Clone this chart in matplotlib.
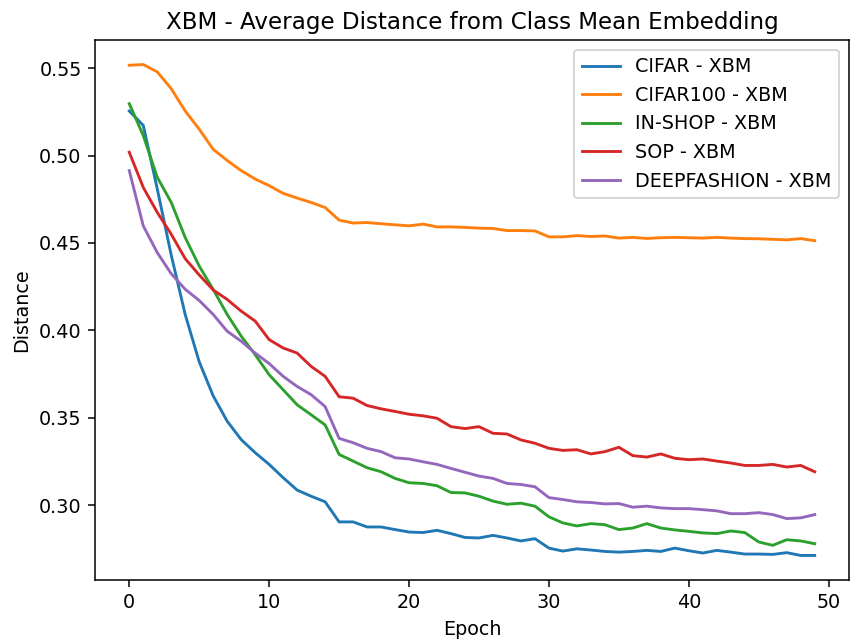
import numpy as np
import matplotlib
matplotlib.use("Agg")
import matplotlib.pyplot as plt

# values, epochs 0..49
epochs = np.arange(50)

cifar = [0.5255, 0.5173, 0.4810, 0.4430, 0.4090, 0.3820, 0.3625, 0.3480, 0.3375, 0.3300,
         0.3233, 0.3157, 0.3086, 0.3051, 0.3019, 0.2904, 0.2904, 0.2875, 0.2875, 0.2860,
         0.2846, 0.2843, 0.2856, 0.2837, 0.2815, 0.2812, 0.2827, 0.2812, 0.2795, 0.2808,
         0.2754, 0.2737, 0.2750, 0.2743, 0.2735, 0.2731, 0.2735, 0.2741, 0.2735, 0.2754,
         0.2739, 0.2726, 0.2741, 0.2731, 0.2720, 0.2720, 0.2718, 0.2728, 0.2712, 0.2712]

cifar100 = [0.5517, 0.5521, 0.5479, 0.5383, 0.5255, 0.5151, 0.5036, 0.4972, 0.4914, 0.4866,
            0.4828, 0.4784, 0.4757, 0.4732, 0.4703, 0.4631, 0.4614, 0.4617, 0.4610, 0.4604,
            0.4598, 0.4608, 0.4592, 0.4592, 0.4589, 0.4585, 0.4583, 0.4571, 0.4571, 0.4569,
            0.4535, 0.4535, 0.4542, 0.4537, 0.4540, 0.4528, 0.4532, 0.4526, 0.4530, 0.4532,
            0.4530, 0.4528, 0.4532, 0.4528, 0.4525, 0.4524, 0.4521, 0.4518, 0.4525, 0.4513]

inshop = [0.5297, 0.5115, 0.4876, 0.4732, 0.4531, 0.4368, 0.4234, 0.4091, 0.3967, 0.3861,
          0.3746, 0.3660, 0.3574, 0.3517, 0.3459, 0.3290, 0.3252, 0.3214, 0.3191, 0.3153,
          0.3128, 0.3124, 0.3111, 0.3072, 0.3070, 0.3051, 0.3023, 0.3005, 0.3011, 0.2994,
          0.2933, 0.2898, 0.2881, 0.2894, 0.2888, 0.2860, 0.2869, 0.2894, 0.2869, 0.2858,
          0.2850, 0.2841, 0.2837, 0.2852, 0.2843, 0.2789, 0.2770, 0.2802, 0.2795, 0.2779]

sop = [0.5019, 0.4818, 0.4675, 0.4550, 0.4410, 0.4317, 0.4231, 0.4177, 0.4110, 0.4053,
       0.3947, 0.3899, 0.3870, 0.3794, 0.3737, 0.3620, 0.3612, 0.3570, 0.3551, 0.3536,
       0.3520, 0.3511, 0.3497, 0.3449, 0.3438, 0.3449, 0.3411, 0.3407, 0.3373, 0.3354,
       0.3325, 0.3313, 0.3317, 0.3293, 0.3306, 0.3331, 0.3283, 0.3275, 0.3293, 0.3268,
       0.3260, 0.3264, 0.3252, 0.3241, 0.3227, 0.3227, 0.3233, 0.3218, 0.3227, 0.3191]

deepfashion = [0.4914, 0.4598, 0.4445, 0.4324, 0.4235, 0.4171, 0.4091, 0.3995, 0.3938, 0.3870,
               0.3810, 0.3737, 0.3679, 0.3632, 0.3564, 0.3382, 0.3357, 0.3325, 0.3306, 0.3271,
               0.3264, 0.3248, 0.3233, 0.3210, 0.3188, 0.3166, 0.3153, 0.3124, 0.3118, 0.3105,
               0.3043, 0.3032, 0.3019, 0.3015, 0.3007, 0.3009, 0.2988, 0.2994, 0.2984, 0.2980,
               0.2980, 0.2974, 0.2967, 0.2951, 0.2951, 0.2957, 0.2946, 0.2923, 0.2927, 0.2946]

series = [("CIFAR - XBM", cifar), ("CIFAR100 - XBM", cifar100), ("IN-SHOP - XBM", inshop),
          ("SOP - XBM", sop), ("DEEPFASHION - XBM", deepfashion)]

dpi = 138
fig, ax = plt.subplots(figsize=(851 / dpi, 641 / dpi), dpi=dpi)
fig.subplots_adjust(left=95 / 851, right=849 / 851, top=1 - 40 / 641, bottom=1 - 580 / 641)

for name, vals in series:
    ax.plot(epochs, vals, label=name)

ax.set_title("XBM - Average Distance from Class Mean Embedding")
ax.set_xlabel("Epoch")
ax.set_ylabel("Distance")
ax.legend(loc="upper right")

fig.savefig("out.png", dpi=dpi)
